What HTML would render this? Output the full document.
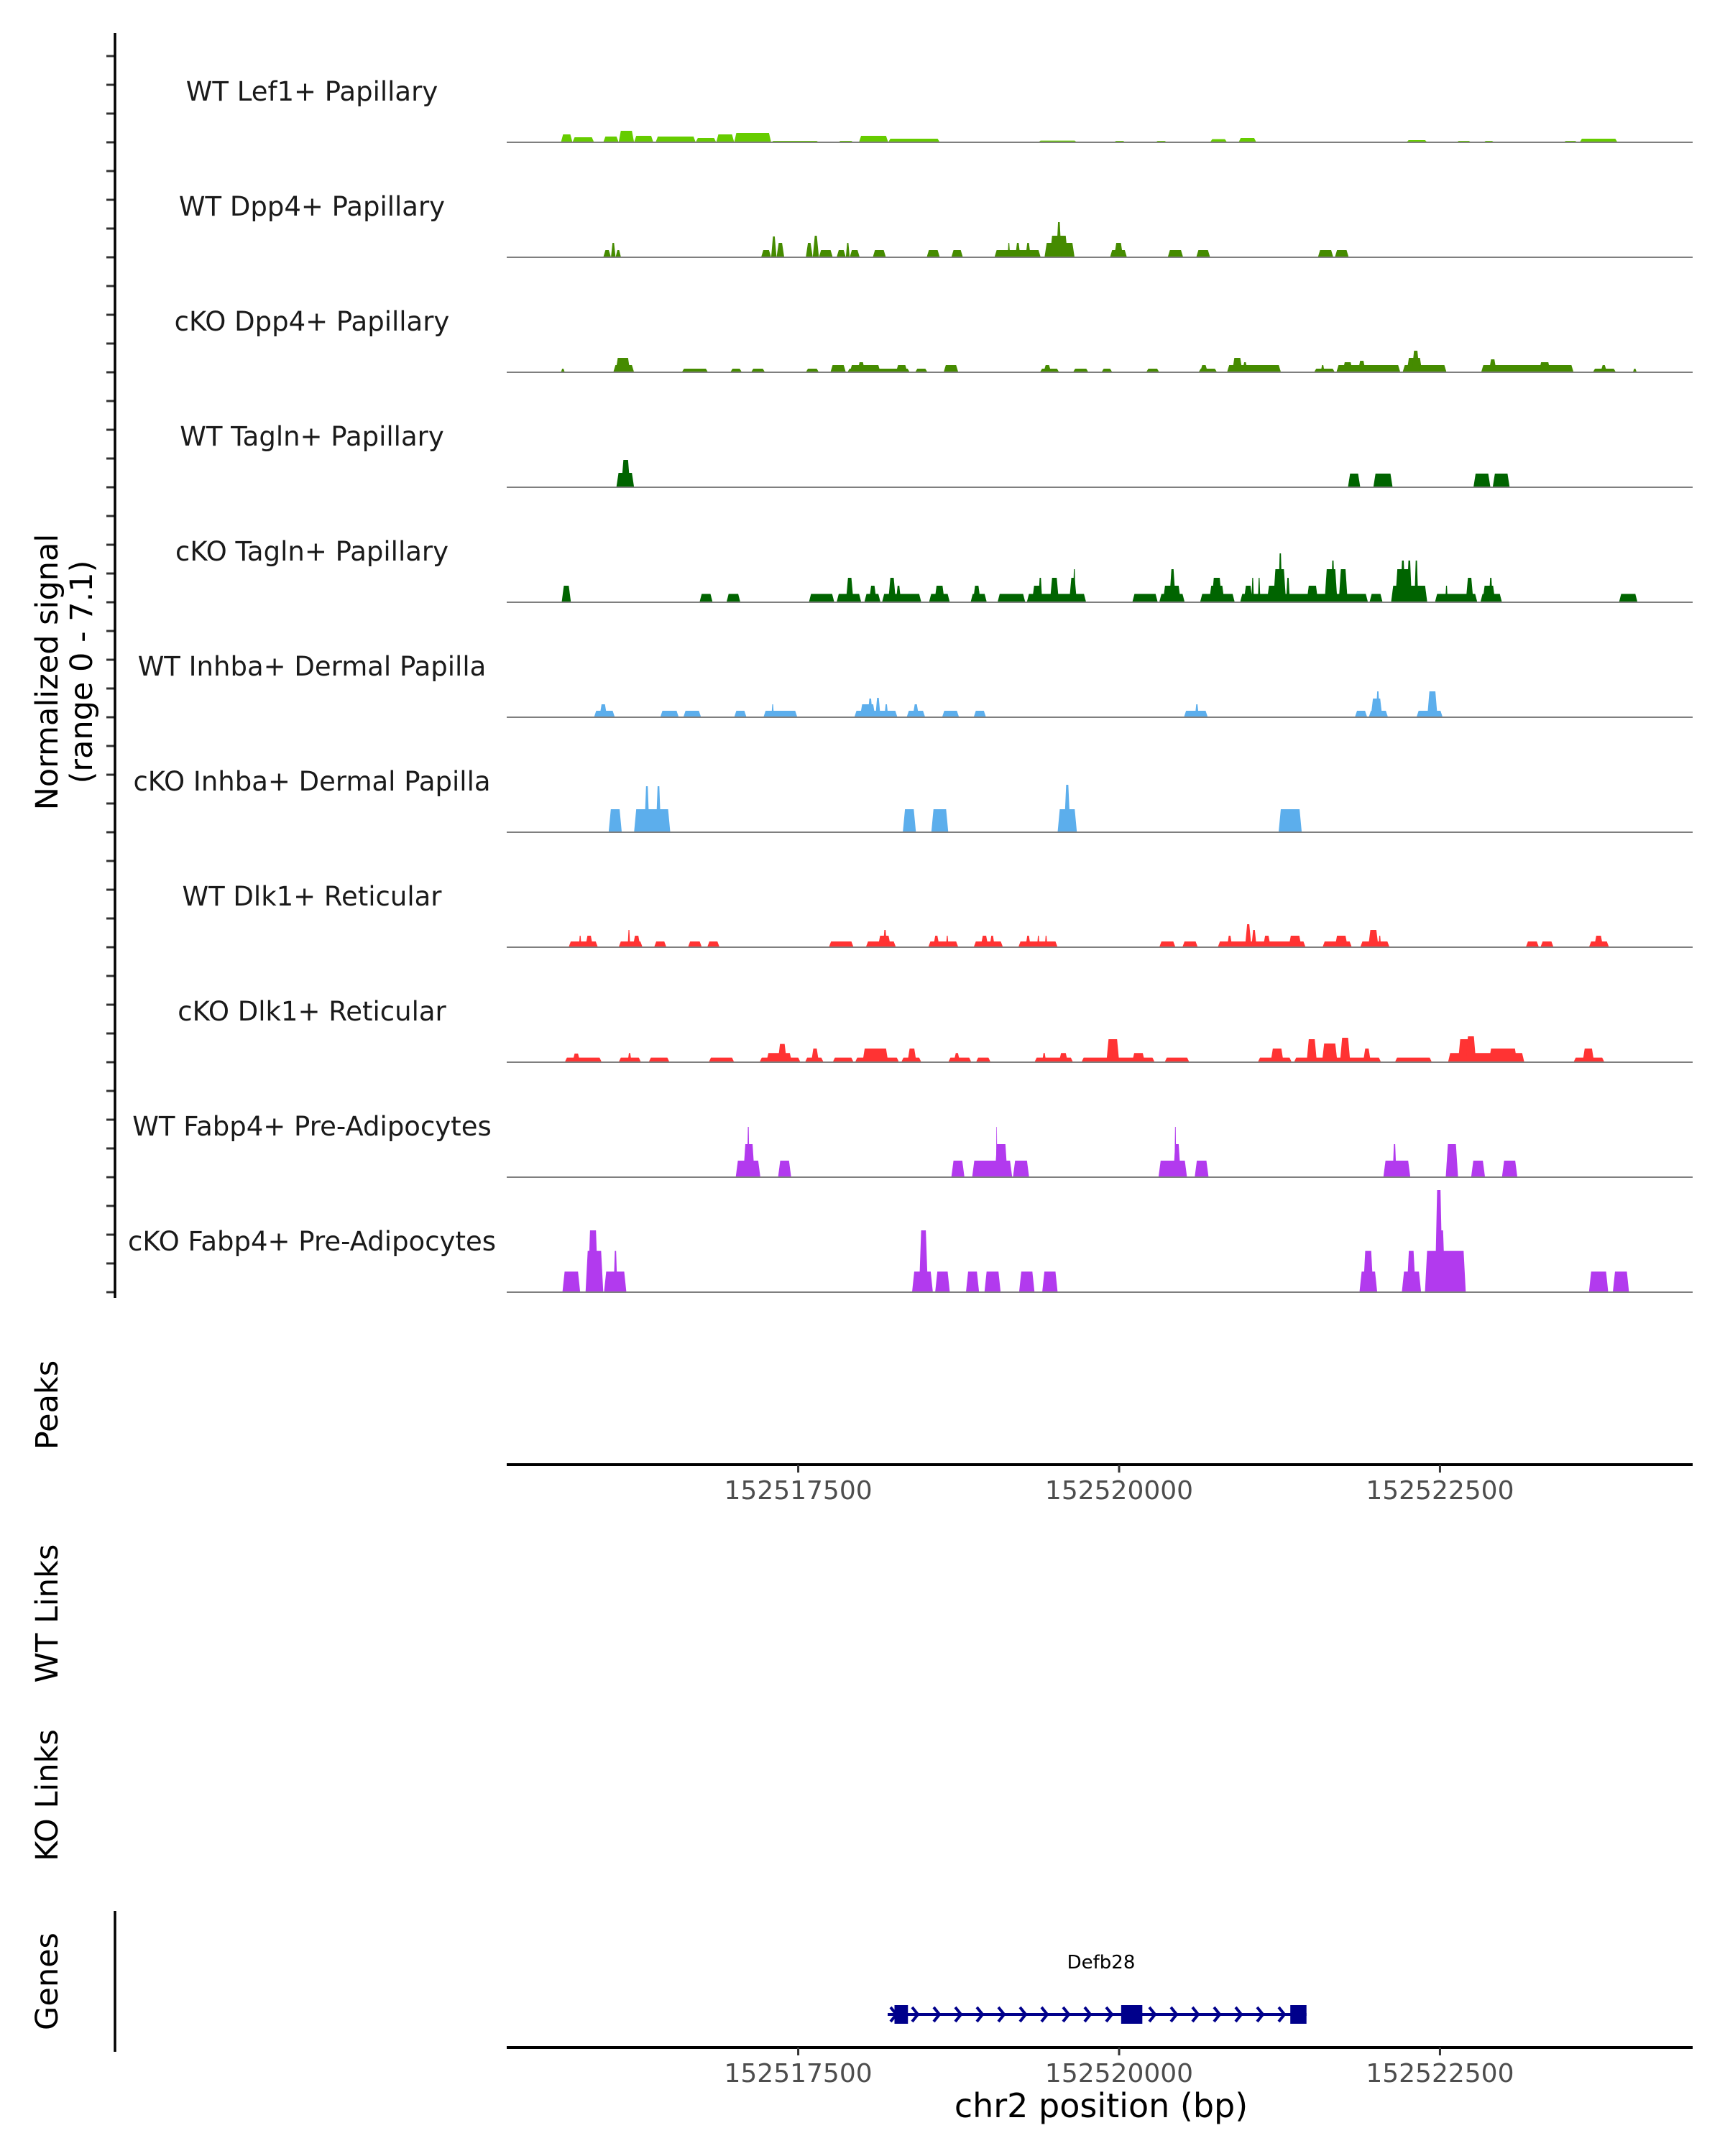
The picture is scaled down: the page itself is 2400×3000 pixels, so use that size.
<!DOCTYPE html>
<html><head><meta charset="utf-8"><style>
html,body{margin:0;padding:0;background:#fff;}
svg{display:block;font-family:"DejaVu Sans","Liberation Sans",sans-serif;}
</style></head><body>
<svg id="chart" width="2400" height="3000" viewBox="0 0 2400 3000" xmlns="http://www.w3.org/2000/svg">
<g id="tracks"></g>
<g id="axes"></g>
</svg>
<script>
// ---- data ----
const regionStart = 152515201; // offsets below are bp from regionStart
const trackNames = ["WT Lef1+ Papillary","WT Dpp4+ Papillary","cKO Dpp4+ Papillary","WT Tagln+ Papillary","cKO Tagln+ Papillary","WT Inhba+ Dermal Papilla","cKO Inhba+ Dermal Papilla","WT Dlk1+ Reticular","cKO Dlk1+ Reticular","WT Fabp4+ Pre-Adipocytes","cKO Fabp4+ Pre-Adipocytes"];
const trackColors = ["#66cc00","#458b00","#458b00","#006400","#006400","#5caeec","#5caeec","#ff3333","#ff3333","#b23aee","#b23aee"];
const lef1WT = [[450,540,0.55],[540,708,0.35],[780,900,0.4],[900,1020,0.8],[1020,1170,0.45],[1188,1500,0.4],[1500,1660,0.3],[1660,1800,0.55],[1800,2088,0.65],[2088,2460,0.1],[2610,2730,0.1],[2772,3000,0.45],[3000,3402,0.25],[4170,4470,0.12],[4758,4848,0.1],[5082,5172,0.1],[5508,5640,0.22],[5730,5868,0.3],[7038,7200,0.15],[7428,7542,0.1],[7638,7722,0.1],[8262,8370,0.1],[8388,8682,0.25]];
const dpp4WT = [[780,840,0.5],[840,876,1.0],[876,918,0.5],[2010,2088,0.5],[2088,2130,1.45],[2130,2190,1.0],[2358,2412,1.0],[2412,2460,1.5],[2460,2568,0.5],[2598,2670,0.5],[2670,2700,1.0],[2700,2778,0.5],[2880,2982,0.5],[3300,3402,0.5],[3492,3582,0.5],[3828,4188,0.5],[3930,3950,1.0],[3990,4030,1.0],[4070,4110,1.0],[4218,4452,1.0],[4260,4400,1.5],[4310,4350,2.45],[4728,4860,0.5],[4760,4830,1.0],[5178,5298,0.5],[5400,5508,0.5],[6348,6468,0.5],[6480,6588,0.5]];
const dpp4KO = [[450,480,0.25],[858,1020,0.5],[876,990,1.0],[1392,1596,0.25],[1770,1860,0.25],[1932,2040,0.25],[2358,2460,0.25],[2550,2670,0.5],[2682,3168,0.25],[2700,2940,0.5],[2760,2820,0.7],[3060,3150,0.5],[3210,3306,0.25],[3432,3546,0.5],[4182,4332,0.25],[4210,4270,0.5],[4440,4560,0.25],[4662,4746,0.25],[5010,5112,0.25],[5418,5562,0.25],[5430,5490,0.5],[5640,6060,0.5],[5680,5760,1.0],[5760,5800,0.7],[5830,5920,0.5],[6318,6480,0.25],[6370,6400,0.5],[6492,6990,0.5],[6540,6620,0.7],[6660,6720,0.8],[7008,7350,0.5],[7040,7160,1.0],[7080,7140,1.5],[7620,8340,0.5],[7680,7740,0.9],[8070,8160,0.7],[8490,8670,0.25],[8550,8600,0.5],[8802,8832,0.25]];
const taglnWT = [[882,1020,1.0],[920,990,1.9],[6582,6678,0.95],[6780,6930,0.95],[7560,7692,0.95],[7710,7842,0.95]];
const taglnKO = [[456,528,1.15],[1530,1632,0.58],[1740,1848,0.58],[2382,2580,0.58],[2598,2790,0.58],[2670,2730,1.7],[2814,2940,0.58],[2850,2910,1.15],[2952,3258,0.58],[3000,3060,1.7],[3060,3100,1.15],[3318,3480,0.58],[3360,3440,1.15],[3642,3768,0.58],[3660,3720,1.15],[3852,4068,0.58],[4080,4542,0.58],[4120,4200,1.15],[4170,4200,1.7],[4260,4330,1.7],[4410,4470,1.7],[4440,4460,2.3],[4902,5100,0.58],[5112,5310,0.58],[5140,5280,1.15],[5190,5240,2.3],[5430,5700,0.58],[5500,5620,1.15],[5520,5600,1.7],[5742,6738,0.58],[5770,5840,1.15],[5830,5850,1.7],[5880,5900,1.7],[5950,6060,1.15],[6000,6100,2.3],[6040,6070,3.4],[6100,6130,1.7],[6260,6350,1.15],[6400,6500,2.3],[6450,6480,2.9],[6510,6580,2.3],[6750,6852,0.58],[6918,7200,1.15],[6950,7080,2.3],[6990,7030,2.9],[7040,7080,2.9],[7100,7130,2.9],[7260,7590,0.58],[7340,7360,1.15],[7500,7560,1.7],[7614,7782,0.58],[7630,7730,1.15],[7680,7710,1.7],[8694,8838,0.58]];
const inhbaWT = [[708,870,0.45],[750,810,0.9],[1224,1368,0.45],[1404,1542,0.45],[1800,1896,0.45],[2028,2292,0.45],[2090,2110,0.9],[2736,3072,0.45],[2780,2900,0.9],[2840,2880,1.3],[2900,2940,1.35],[2970,3000,0.9],[3144,3288,0.45],[3190,3240,0.9],[3420,3552,0.45],[3666,3762,0.45],[5304,5490,0.45],[5390,5420,0.9],[6636,6732,0.45],[6744,6894,0.45],[6760,6850,1.3],[6800,6830,1.8],[7116,7320,0.45],[7200,7280,1.8]];
const inhbaKO = [[822,924,1.6],[1020,1302,1.6],[1100,1140,3.2],[1190,1230,3.2],[3114,3216,1.6],[3336,3468,1.6],[4320,4470,1.6],[4370,4420,3.3],[6042,6222,1.6]];
const dlk1WT = [[510,738,0.4],[590,610,0.8],[640,700,0.8],[900,1086,0.4],[970,990,1.2],[1010,1070,0.8],[1176,1272,0.4],[1440,1548,0.4],[1590,1686,0.4],[2538,2730,0.4],[2826,3060,0.4],[2920,3020,0.8],[2960,2990,1.2],[3312,3546,0.4],[3350,3400,0.8],[3450,3470,0.8],[3666,3894,0.4],[3720,3780,0.8],[3790,3830,0.8],[4014,4320,0.4],[4070,4110,0.8],[4160,4180,0.8],[4220,4240,0.8],[5112,5238,0.4],[5292,5412,0.4],[5568,6252,0.4],[5640,5680,0.8],[5780,5830,1.6],[5830,5870,1.2],[5920,5980,0.8],[6120,6220,0.8],[6384,6612,0.4],[6480,6580,0.8],[6678,6906,0.4],[6740,6820,1.2],[6820,6840,0.8],[7968,8070,0.4],[8082,8184,0.4],[8460,8616,0.4],[8500,8570,0.8]];
const dlk1KO = [[480,768,0.32],[540,600,0.6],[900,1074,0.32],[970,1000,0.64],[1134,1296,0.32],[1602,1800,0.32],[1998,2316,0.32],[2050,2250,0.64],[2140,2210,1.27],[2352,2496,0.32],[2400,2460,0.95],[2568,2730,0.32],[2742,3084,0.32],[2800,3000,0.95],[3102,3258,0.32],[3150,3220,0.95],[3468,3648,0.32],[3510,3560,0.64],[3684,3798,0.32],[4140,4440,0.32],[4200,4230,0.64],[4330,4400,0.64],[4506,5076,0.32],[4700,4800,1.6],[4740,4790,0.95],[4900,5000,0.64],[5154,5346,0.32],[5880,6144,0.32],[5980,6080,0.95],[6162,6840,0.32],[6260,6340,1.6],[6380,6500,1.3],[6520,6600,1.7],[6700,6760,0.95],[6948,7236,0.32],[7362,7956,0.64],[7440,7550,1.6],[7500,7580,1.8],[7680,7900,0.95],[8340,8580,0.32],[8410,8500,0.95]];
const fabp4WT = [[1812,2004,1.15],[1870,1960,2.3],[1900,1920,3.5],[2142,2244,1.15],[3492,3594,1.15],[3654,3966,1.15],[3830,3930,2.3],[3840,3850,3.5],[3972,4098,1.15],[5106,5328,1.15],[5220,5280,2.3],[5230,5245,3.5],[5388,5496,1.15],[6858,7068,1.15],[6930,6960,2.3],[7344,7440,2.3],[7542,7650,1.15],[7782,7902,1.15]];
const fabp4KO = [[462,600,1.43],[642,780,2.87],[660,740,4.3],[786,960,1.43],[860,890,2.87],[3186,3348,1.43],[3240,3310,4.3],[3366,3480,1.43],[3606,3708,1.43],[3750,3876,1.43],[4020,4140,1.43],[4200,4320,1.43],[6672,6810,1.43],[6700,6780,2.87],[7002,7152,1.43],[7040,7110,2.87],[7182,7500,2.87],[7260,7320,7.1],[7280,7340,4.3],[7380,7480,1.43],[8460,8610,1.43],[8646,8772,1.43]];
const trackData = [lef1WT,dpp4WT,dpp4KO,taglnWT,taglnKO,inhbaWT,inhbaKO,dlk1WT,dlk1KO,fabp4WT,fabp4KO];
const xTicks = [152517500,152520000,152522500];
const xTickLabels = ["152517500","152520000","152522500"];
const geneName = "Defb28";
const geneStart = 152518197, geneEnd = 152521460;
const geneExons = [[152518250,152518355],[152520016,152520181],[152521334,152521460]];
const yTickValues = [0,2,4,6];

// ---- scales ----
const NS="http://www.w3.org/2000/svg";
const PX0=705, PX1=2355;
function xScale(bp){ return 1557 + (bp-152520000)*0.17857; }
function base(i){ return 198 + 160*i; }
function yScale(v,i){ return base(i) - v*20; }
function mk(tag,attrs,parent){const e=document.createElementNS(NS,tag);for(const k in attrs)e.setAttribute(k,attrs[k]);parent.appendChild(e);return e;}
const tracksG=document.getElementById('tracks'), axesG=document.getElementById('axes');

trackData.forEach((segs,i)=>{
  const g=mk('g',{},tracksG);
  
  
  const lbl=mk('text',{x:434,y:base(i)-58,'text-anchor':'middle','font-size':37,fill:'#1a1a1a'},g);
  lbl.textContent=trackNames[i];
  
  
  segs.forEach(s=>{
    const x0=xScale(regionStart+s[0]), x1=xScale(regionStart+s[1]), y0=base(i), y1=yScale(s[2],i);
    const sl=Math.min(3,(x1-x0)/3);
    const p=mk('polygon',{points:`${x0},${y0} ${x0+sl},${y1} ${x1-sl},${y1} ${x1},${y0}`,fill:trackColors[i]},g);
    
    
  });
  const bl=mk('line',{x1:PX0,x2:PX1,y1:base(i),y2:base(i),stroke:'#7f7f7f','stroke-width':2},g);
  
  
  yTickValues.forEach(v=>{
    const t=mk('line',{x1:148,x2:160,y1:yScale(v,i),y2:yScale(v,i),stroke:'#333','stroke-width':3},axesG);
    
    
  });
});
const ya=mk('line',{x1:160,x2:160,y1:46,y2:1806,stroke:'#000','stroke-width':3.5},axesG);



function rotText(txt,x,y,size,name){
  const t=mk('text',{x:x,y:y,'text-anchor':'middle','font-size':size,fill:'#000',transform:`rotate(-90 ${x} ${y})`},axesG);
  t.textContent=txt;
  
  
}
rotText('Normalized signal',80,935,43,'y-axis-title');
rotText('(range 0 - 7.1)',128,935,43,'y-axis-subtitle');
rotText('Peaks',80,1955,43,'peaks-title');
rotText('WT Links',80,2245,43,'wt-links-title');
rotText('KO Links',80,2498,43,'ko-links-title');
rotText('Genes',80,2757,43,'genes-title');

function xAxis(y,name){
  const l=mk('line',{x1:PX0,x2:PX1,y1:y,y2:y,stroke:'#000','stroke-width':4},axesG);
  
  
  xTicks.forEach((bp,k)=>{
    const x=xScale(bp);
    const t=mk('line',{x1:x,x2:x,y1:y,y2:y+11,stroke:'#333','stroke-width':3},axesG);
    
    
    const tl=mk('text',{x:x,y:y+48,'text-anchor':'middle','font-size':36,fill:'#4d4d4d'},axesG);
    tl.textContent=xTickLabels[k];
    
    
  });
}
xAxis(2038,'peaks-x-axis');
xAxis(2849,'genes-x-axis');
const xt=mk('text',{x:1532,y:2946,'text-anchor':'middle','font-size':46,fill:'#000'},axesG);
xt.textContent='chr2 position (bp)';


const ga=mk('line',{x1:160,x2:160,y1:2659,y2:2855,stroke:'#000','stroke-width':3.5},axesG);



// gene model
const gg=mk('g',{},axesG);


const gy=2803;
const gx0=xScale(geneStart), gx1=xScale(geneEnd);
mk('line',{x1:gx0,x2:gx1,y1:gy,y2:gy,stroke:'#00008b','stroke-width':4},gg);
for(let x=gx0+8;x<gx1-10;x+=30){
  mk('polyline',{points:`${x-4},${gy-10} ${x+4},${gy} ${x-4},${gy+10}`,fill:'none',stroke:'#00008b','stroke-width':4},gg);
}
geneExons.forEach(e=>{
  const r=mk('rect',{x:xScale(e[0]),y:gy-13,width:xScale(e[1])-xScale(e[0]),height:26,fill:'#00008b'},gg);
  
  
});
const gl=mk('text',{x:1532,y:2739,'text-anchor':'middle','font-size':26,fill:'#000'},gg);
gl.textContent=geneName;


</script>
</body></html>
